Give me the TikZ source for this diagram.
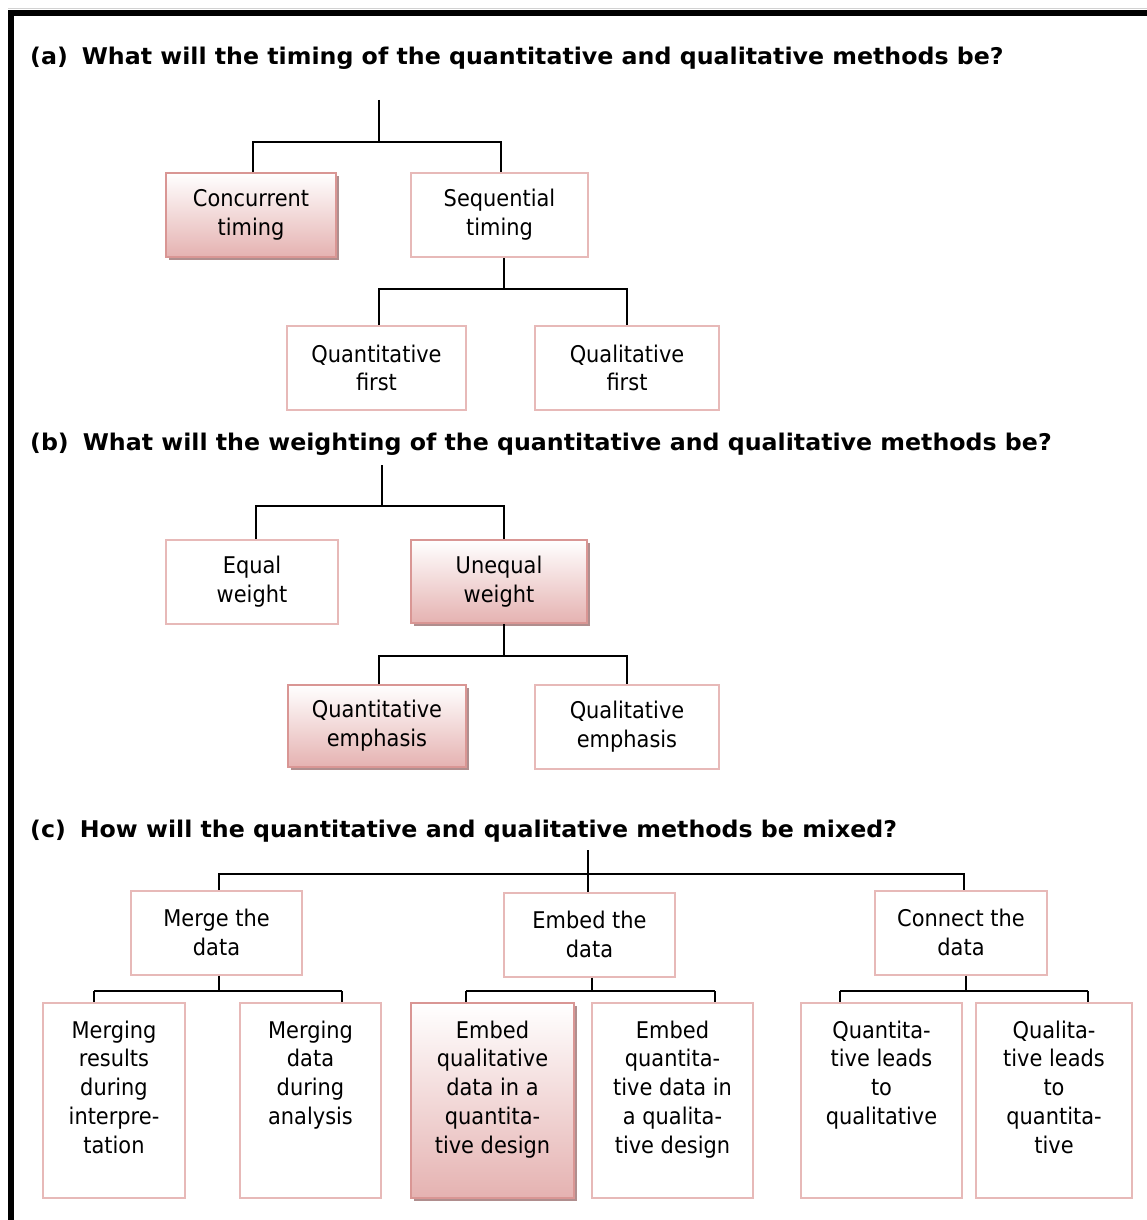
\documentclass[tikz,border=0pt]{standalone}
\usepackage{fontspec}
\setmainfont{DejaVu Sans}[FakeStretch=0.91]
\newfontfamily\headfont{DejaVu Sans}[FakeStretch=1.03]
\usetikzlibrary{shadows,calc}

\definecolor{edgepink}{RGB}{231,185,184}
\definecolor{hiedge}{RGB}{217,150,148}
\definecolor{hifill}{RGB}{229,178,177}
\definecolor{shadowc}{RGB}{176,142,142}

\tikzset{
  txt/.style={align=center, inner sep=0pt, font=\fontsize{23}{28.8}\selectfont},
  box/.style={txt, draw=edgepink, line width=2pt, fill=white},
  hibox/.style={txt, draw=hiedge, line width=2pt, top color=white, bottom color=hifill,
    drop shadow={shadow xshift=3pt, shadow yshift=-3pt, fill=shadowc, opacity=1}},
  heading/.style={anchor=west, inner sep=0pt, font=\headfont\bfseries\fontsize{23}{27}\selectfont},
  link/.style={line width=2pt, black},
}

\begin{document}
\begin{tikzpicture}[x=1pt, y=-1pt]
  \useasboundingbox (0,0) rectangle (1147,1220);

  % outer frame (top and left edges)
  \draw[gray!35, line width=0.7pt] (8,8.6) -- (1147,8.6);
  \draw[line width=6.5pt, line join=miter] (11.2,1220) -- (11.2,13.2) -- (1147,13.2);

  % ---------------- (a) timing ----------------
  \node[heading] (ha) at (30,58.5) {(a)\hspace{14pt}What will the timing of the quantitative and qualitative methods be?};

  \node[hibox, minimum width=170pt, minimum height=84pt] (conc) at (251,215) {Concurrent\\timing};
  \node[box, minimum width=177pt, minimum height=84pt] (seq) at (499.5,215) {Sequential\\timing};
  \node[box, minimum width=179pt, minimum height=84pt] (qf) at (376.5,368) {Quantitative\\first};
  \node[box, minimum width=184pt, minimum height=84pt] (qlf) at (627,368) {Qualitative\\first};

  \coordinate (aroot) at (379,100);
  \coordinate (abus) at (379,142);
  \draw[link] (aroot) -- (abus);
  \draw[link] (conc.north -| 253,0) |- (abus) -| (seq.north -| 501,0);
  \coordinate (sbus) at (504,289);
  \draw[link] (seq.south -| sbus) -- (sbus);
  \draw[link] (qf.north -| 379,0) |- (sbus) -| (qlf.north);

  % ---------------- (b) weighting ----------------
  \node[heading] (hb) at (30,444.5) {(b)\hspace{14pt}What will the weighting of the quantitative and qualitative methods be?};

  \node[box, minimum width=172pt, minimum height=84pt] (eqw) at (252,582) {Equal\\weight};
  \node[hibox, minimum width=176pt, minimum height=83pt] (uneq) at (499,581.5) {Unequal\\weight};
  \node[hibox, minimum width=178pt, minimum height=82pt] (qe) at (377,726) {Quantitative\\emphasis};
  \node[box, minimum width=184pt, minimum height=84pt] (qle) at (627,727) {Qualitative\\emphasis};

  \coordinate (broot) at (382,465);
  \coordinate (bbus) at (382,506);
  \draw[link] (broot) -- (bbus);
  \draw[link] (eqw.north -| 256,0) |- (bbus) -| (uneq.north -| 504,0);
  \coordinate (ubus) at (504,656);
  \draw[link] (uneq.south -| ubus) -- (ubus);
  \draw[link] (qe.north -| 379,0) |- (ubus) -| (qle.north);

  % ---------------- (c) mixing ----------------
  \node[heading] (hc) at (30,831) {(c)\hspace{14pt}How will the quantitative and qualitative methods be mixed?};

  \node[box, minimum width=171pt, minimum height=84pt] (merge) at (216.5,932.5) {Merge the\\data};
  \node[box, minimum width=171pt, minimum height=84pt] (embed) at (589.5,934.5) {Embed the\\data};
  \node[box, minimum width=172pt, minimum height=84pt] (connect) at (961,932.5) {Connect the\\data};

  \coordinate (croot) at (588,850);
  \coordinate (cbus) at (588,874);
  \draw[link] (croot) -- (embed.north -| croot);
  \draw[link] (merge.north -| 219,0) |- (cbus) -| (connect.north -| 964,0);

  % leaf boxes
  \node[box, minimum width=142pt, minimum height=195pt] (mr) at (114,1100.5) {};
  \node[box, minimum width=141pt, minimum height=195pt] (md) at (310.5,1100.5) {};
  \node[hibox, minimum width=163pt, minimum height=195pt] (eql) at (492.5,1100.5) {};
  \node[box, minimum width=161pt, minimum height=195pt] (eqn) at (672.5,1100.5) {};
  \node[box, minimum width=161pt, minimum height=195pt] (qlq) at (881.5,1100.5) {};
  \node[box, minimum width=156pt, minimum height=195pt] (qtq) at (1054,1100.5) {};

  \node[txt, anchor=north] (mrT) at ([yshift=-18.5pt]mr.north) {Merging\\results\\during\\interpre-\\tation};
  \node[txt, anchor=north] (mdT) at ([yshift=-18.5pt]md.north) {Merging\\data\\during\\analysis};
  \node[txt, anchor=north] (eqlT) at ([yshift=-18.5pt]eql.north) {Embed\\qualitative\\data in a\\quantita-\\tive design};
  \node[txt, anchor=north] (eqnT) at ([yshift=-18.5pt]eqn.north) {Embed\\quantita-\\tive data in\\a qualita-\\tive design};
  \node[txt, anchor=north] (qlqT) at ([yshift=-18.5pt]qlq.north) {Quantita-\\tive leads\\to\\qualitative};
  \node[txt, anchor=north] (qtqT) at ([yshift=-18.5pt]qtq.north) {Qualita-\\tive leads\\to\\quantita-\\tive};

  % second-level buses: each spans 248pt under its parent
  \coordinate (mbus) at (219,991);
  \draw[link] (merge.south -| mbus) -- (mbus);
  \draw[link] ($(mbus)+(-125,0)$) coordinate (mL) -- ($(mbus)+(123,0)$) coordinate (mR);
  \draw[link] (mL) -- (mr.north -| mL);
  \draw[link] (mR) -- (md.north -| mR);

  \coordinate (ebus) at (592,991);
  \draw[link] (embed.south -| ebus) -- (ebus);
  \draw[link] ($(ebus)+(-126,0)$) coordinate (eL) -- ($(ebus)+(123,0)$) coordinate (eR);
  \draw[link] (eL) -- (eql.north -| eL);
  \draw[link] (eR) -- (eqn.north -| eR);

  \coordinate (kbus) at (966,991);
  \draw[link] (connect.south -| kbus) -- (kbus);
  \draw[link] ($(kbus)+(-126,0)$) coordinate (kL) -- ($(kbus)+(122,0)$) coordinate (kR);
  \draw[link] (kL) -- (qlq.north -| kL);
  \draw[link] (kR) -- (qtq.north -| kR);
\end{tikzpicture}
\end{document}
